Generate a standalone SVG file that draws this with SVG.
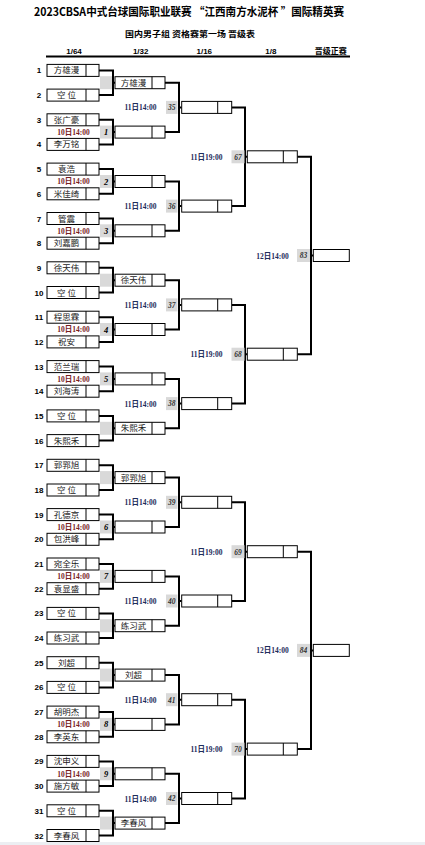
<svg xmlns="http://www.w3.org/2000/svg" width="425" height="845" viewBox="0 0 425 845">
<style>
.b{fill:#fff;stroke:#000;stroke-width:1}
.d{stroke:#000;stroke-width:1}
.c{fill:none;stroke:#000;stroke-width:2}
.g{fill:#d9d9d9}
.n{font-family:"Noto Sans CJK SC",sans-serif;font-size:8.5px;fill:#1a1a1a;text-anchor:middle}
.s{font-family:"Liberation Sans",Arial,sans-serif;font-weight:bold;font-size:8px;fill:#000;text-anchor:middle}
.m{font-family:"Liberation Serif",serif;font-style:italic;font-weight:bold;font-size:8.5px;fill:#000;text-anchor:middle}
.m2{font-family:"Liberation Serif",serif;font-style:italic;font-weight:bold;font-size:7.5px;fill:#333;text-anchor:middle}
.t1{font-family:"Liberation Serif","Noto Sans CJK SC",serif;font-weight:bold;font-size:7.5px;fill:#7a1f1f;text-anchor:middle}
.t2{font-family:"Liberation Serif","Noto Sans CJK SC",serif;font-weight:bold;font-size:7.5px;fill:#1f2d5c;text-anchor:middle}
.h{font-family:"Noto Sans CJK SC",sans-serif;font-weight:bold;fill:#000;text-anchor:middle}
.hr{font-family:"Liberation Sans","Noto Sans CJK SC",sans-serif;font-weight:bold;font-size:8px;fill:#000;text-anchor:middle}
</style>
<rect x="0" y="0" width="425" height="845" fill="#fff"/>
<rect x="0" y="842" width="425" height="3" fill="#eceef2"/>
<g id="header">
<text class="h" x="189" y="16" font-size="11.5" textLength="310" lengthAdjust="spacingAndGlyphs">2023CBSA中式台球国际职业联赛 “江西南方水泥杯 ”国际精英赛</text>
<text class="h" x="190" y="37" font-size="8" textLength="130" lengthAdjust="spacingAndGlyphs">国内男子组 资格赛第一场 晋级表</text>
<text class="hr" x="74" y="54">1/64</text>
<text class="hr" x="140.7" y="54">1/32</text>
<text class="hr" x="204.3" y="54">1/16</text>
<text class="hr" x="270.8" y="54">1/8</text>
<text class="hr" x="330.8" y="54">晋级正赛</text>
<line x1="46" y1="56.5" x2="350" y2="56.5" stroke="#000" stroke-width="2"/>
</g>
<g id="connectors">
<path class="c" d="M99,70.4H113V95.1H99M113,82.7H115"/>
<path class="c" d="M99,119.8H113V144.4H99M113,132.1H115"/>
<path class="c" d="M99,169.1H113V193.8H99M113,181.5H115"/>
<path class="c" d="M99,218.5H113V243.2H99M113,230.8H115"/>
<path class="c" d="M99,267.8H113V292.5H99M113,280.2H115"/>
<path class="c" d="M99,317.2H113V341.9H99M113,329.5H115"/>
<path class="c" d="M99,366.6H113V391.2H99M113,378.9H115"/>
<path class="c" d="M99,415.9H113V440.6H99M113,428.3H115"/>
<path class="c" d="M99,465.3H113V490H99M113,477.6H115"/>
<path class="c" d="M99,514.6H113V539.3H99M113,527H115"/>
<path class="c" d="M99,564H113V588.7H99M113,576.4H115"/>
<path class="c" d="M99,613.4H113V638H99M113,625.7H115"/>
<path class="c" d="M99,662.7H113V687.4H99M113,675.1H115"/>
<path class="c" d="M99,712.1H113V736.8H99M113,724.4H115"/>
<path class="c" d="M99,761.4H113V786.1H99M113,773.8H115"/>
<path class="c" d="M99,810.8H113V835.5H99M113,823.1H115"/>
<path class="c" d="M165,82.7H179V132.1H165M179,107.4H181.7"/>
<path class="c" d="M165,181.5H179V230.8H165M179,206.1H181.7"/>
<path class="c" d="M165,280.2H179V329.5H165M179,304.9H181.7"/>
<path class="c" d="M165,378.9H179V428.3H165M179,403.6H181.7"/>
<path class="c" d="M165,477.6H179V527H165M179,502.3H181.7"/>
<path class="c" d="M165,576.4H179V625.7H165M179,601H181.7"/>
<path class="c" d="M165,675.1H179V724.4H165M179,699.7H181.7"/>
<path class="c" d="M165,773.8H179V823.1H165M179,798.5H181.7"/>
<path class="c" d="M231.7,107.4H245V206.1H231.7M245,156.8H247.3"/>
<path class="c" d="M231.7,304.9H245V403.6H231.7M245,354.2H247.3"/>
<path class="c" d="M231.7,502.3H245V601H231.7M245,551.7H247.3"/>
<path class="c" d="M231.7,699.7H245V798.5H231.7M245,749.1H247.3"/>
<path class="c" d="M297.3,156.8H311V354.2H297.3M311,255.5H313.3"/>
<path class="c" d="M297.3,551.7H311V749.1H297.3M311,650.4H313.3"/>
</g>
<g id="r1matches">
<rect class="g" x="100" y="76.2" width="12" height="13"/>
<g id="m1"><rect class="g" x="100" y="125.6" width="12" height="13"/><text class="m" x="106" y="135.1">1</text><text class="t1" x="73.5" y="134.8">10日14:00</text></g>
<g id="m2"><rect class="g" x="100" y="175" width="12" height="13"/><text class="m" x="106" y="184.5">2</text><text class="t1" x="73.5" y="184.2">10日14:00</text></g>
<g id="m3"><rect class="g" x="100" y="224.3" width="12" height="13"/><text class="m" x="106" y="233.8">3</text><text class="t1" x="73.5" y="233.5">10日14:00</text></g>
<rect class="g" x="100" y="273.7" width="12" height="13"/>
<g id="m4"><rect class="g" x="100" y="323" width="12" height="13"/><text class="m" x="106" y="332.5">4</text><text class="t1" x="73.5" y="332.2">10日14:00</text></g>
<g id="m5"><rect class="g" x="100" y="372.4" width="12" height="13"/><text class="m" x="106" y="381.9">5</text><text class="t1" x="73.5" y="381.6">10日14:00</text></g>
<rect class="g" x="100" y="421.8" width="12" height="13"/>
<rect class="g" x="100" y="471.1" width="12" height="13"/>
<g id="m6"><rect class="g" x="100" y="520.5" width="12" height="13"/><text class="m" x="106" y="530">6</text><text class="t1" x="73.5" y="529.7">10日14:00</text></g>
<g id="m7"><rect class="g" x="100" y="569.9" width="12" height="13"/><text class="m" x="106" y="579.4">7</text><text class="t1" x="73.5" y="579.1">10日14:00</text></g>
<rect class="g" x="100" y="619.2" width="12" height="13"/>
<rect class="g" x="100" y="668.6" width="12" height="13"/>
<g id="m8"><rect class="g" x="100" y="717.9" width="12" height="13"/><text class="m" x="106" y="727.4">8</text><text class="t1" x="73.5" y="727.1">10日14:00</text></g>
<g id="m9"><rect class="g" x="100" y="767.3" width="12" height="13"/><text class="m" x="106" y="776.8">9</text><text class="t1" x="73.5" y="776.5">10日14:00</text></g>
<rect class="g" x="100" y="816.6" width="12" height="13"/>
</g>
<g id="r2matches">
<g id="m35"><rect class="g" x="166" y="100.9" width="11.5" height="13"/><text class="m2" x="171.7" y="110.2">35</text><text class="t2" x="140.5" y="110.4">11日14:00</text></g>
<g id="m36"><rect class="g" x="166" y="199.6" width="11.5" height="13"/><text class="m2" x="171.7" y="208.9">36</text><text class="t2" x="140.5" y="209.1">11日14:00</text></g>
<g id="m37"><rect class="g" x="166" y="298.4" width="11.5" height="13"/><text class="m2" x="171.7" y="307.7">37</text><text class="t2" x="140.5" y="307.9">11日14:00</text></g>
<g id="m38"><rect class="g" x="166" y="397.1" width="11.5" height="13"/><text class="m2" x="171.7" y="406.4">38</text><text class="t2" x="140.5" y="406.6">11日14:00</text></g>
<g id="m39"><rect class="g" x="166" y="495.8" width="11.5" height="13"/><text class="m2" x="171.7" y="505.1">39</text><text class="t2" x="140.5" y="505.3">11日14:00</text></g>
<g id="m40"><rect class="g" x="166" y="594.5" width="11.5" height="13"/><text class="m2" x="171.7" y="603.8">40</text><text class="t2" x="140.5" y="604">11日14:00</text></g>
<g id="m41"><rect class="g" x="166" y="693.2" width="11.5" height="13"/><text class="m2" x="171.7" y="702.5">41</text><text class="t2" x="140.5" y="702.7">11日14:00</text></g>
<g id="m42"><rect class="g" x="166" y="792" width="11.5" height="13"/><text class="m2" x="171.7" y="801.3">42</text><text class="t2" x="140.5" y="801.5">11日14:00</text></g>
</g>
<g id="r3matches">
<g id="m67"><rect class="g" x="231.5" y="150.3" width="13" height="13"/><text class="m2" x="238" y="159.6">67</text><text class="t2" x="206.5" y="159.8">11日19:00</text></g>
<g id="m68"><rect class="g" x="231.5" y="347.7" width="13" height="13"/><text class="m2" x="238" y="357">68</text><text class="t2" x="206.5" y="357.2">11日19:00</text></g>
<g id="m69"><rect class="g" x="231.5" y="545.2" width="13" height="13"/><text class="m2" x="238" y="554.5">69</text><text class="t2" x="206.5" y="554.7">11日19:00</text></g>
<g id="m70"><rect class="g" x="231.5" y="742.6" width="13" height="13"/><text class="m2" x="238" y="751.9">70</text><text class="t2" x="206.5" y="752.1">11日19:00</text></g>
</g>
<g id="r4matches">
<g id="m83"><rect class="g" x="297" y="249" width="13" height="13"/><text class="m2" x="303.5" y="258.3">83</text><text class="t2" x="272.5" y="258.5">12日14:00</text></g>
<g id="m84"><rect class="g" x="297" y="643.9" width="13" height="13"/><text class="m2" x="303.5" y="653.2">84</text><text class="t2" x="272.5" y="653.4">12日14:00</text></g>
</g>
<g id="p1"><text class="s" x="39" y="73.4">1</text><rect class="b" x="47" y="64.4" width="52" height="12"/><line class="d" x1="86" y1="64.4" x2="86" y2="76.4"/><text class="n" x="66.5" y="73.4">方雄漫</text></g>
<g id="p2"><text class="s" x="39" y="98.1">2</text><rect class="b" x="47" y="89.1" width="52" height="12"/><line class="d" x1="86" y1="89.1" x2="86" y2="101.1"/><text class="n" x="66.5" y="98.1">空 位</text></g>
<g id="p3"><text class="s" x="39" y="122.8">3</text><rect class="b" x="47" y="113.8" width="52" height="12"/><line class="d" x1="86" y1="113.8" x2="86" y2="125.8"/><text class="n" x="66.5" y="122.8">张广豪</text></g>
<g id="p4"><text class="s" x="39" y="147.4">4</text><rect class="b" x="47" y="138.4" width="52" height="12"/><line class="d" x1="86" y1="138.4" x2="86" y2="150.4"/><text class="n" x="66.5" y="147.4">李万铭</text></g>
<g id="p5"><text class="s" x="39" y="172.1">5</text><rect class="b" x="47" y="163.1" width="52" height="12"/><line class="d" x1="86" y1="163.1" x2="86" y2="175.1"/><text class="n" x="66.5" y="172.1">袁浩</text></g>
<g id="p6"><text class="s" x="39" y="196.8">6</text><rect class="b" x="47" y="187.8" width="52" height="12"/><line class="d" x1="86" y1="187.8" x2="86" y2="199.8"/><text class="n" x="66.5" y="196.8">米佳绮</text></g>
<g id="p7"><text class="s" x="39" y="221.5">7</text><rect class="b" x="47" y="212.5" width="52" height="12"/><line class="d" x1="86" y1="212.5" x2="86" y2="224.5"/><text class="n" x="66.5" y="221.5">管震</text></g>
<g id="p8"><text class="s" x="39" y="246.2">8</text><rect class="b" x="47" y="237.2" width="52" height="12"/><line class="d" x1="86" y1="237.2" x2="86" y2="249.2"/><text class="n" x="66.5" y="246.2">刘嘉鹏</text></g>
<g id="p9"><text class="s" x="39" y="270.8">9</text><rect class="b" x="47" y="261.8" width="52" height="12"/><line class="d" x1="86" y1="261.8" x2="86" y2="273.8"/><text class="n" x="66.5" y="270.8">徐天伟</text></g>
<g id="p10"><text class="s" x="39" y="295.5">10</text><rect class="b" x="47" y="286.5" width="52" height="12"/><line class="d" x1="86" y1="286.5" x2="86" y2="298.5"/><text class="n" x="66.5" y="295.5">空 位</text></g>
<g id="p11"><text class="s" x="39" y="320.2">11</text><rect class="b" x="47" y="311.2" width="52" height="12"/><line class="d" x1="86" y1="311.2" x2="86" y2="323.2"/><text class="n" x="66.5" y="320.2">程思霖</text></g>
<g id="p12"><text class="s" x="39" y="344.9">12</text><rect class="b" x="47" y="335.9" width="52" height="12"/><line class="d" x1="86" y1="335.9" x2="86" y2="347.9"/><text class="n" x="66.5" y="344.9">祝安</text></g>
<g id="p13"><text class="s" x="39" y="369.6">13</text><rect class="b" x="47" y="360.6" width="52" height="12"/><line class="d" x1="86" y1="360.6" x2="86" y2="372.6"/><text class="n" x="66.5" y="369.6">范兰瑞</text></g>
<g id="p14"><text class="s" x="39" y="394.2">14</text><rect class="b" x="47" y="385.2" width="52" height="12"/><line class="d" x1="86" y1="385.2" x2="86" y2="397.2"/><text class="n" x="66.5" y="394.2">刘海涛</text></g>
<g id="p15"><text class="s" x="39" y="418.9">15</text><rect class="b" x="47" y="409.9" width="52" height="12"/><line class="d" x1="86" y1="409.9" x2="86" y2="421.9"/><text class="n" x="66.5" y="418.9">空 位</text></g>
<g id="p16"><text class="s" x="39" y="443.6">16</text><rect class="b" x="47" y="434.6" width="52" height="12"/><line class="d" x1="86" y1="434.6" x2="86" y2="446.6"/><text class="n" x="66.5" y="443.6">朱熙禾</text></g>
<g id="p17"><text class="s" x="39" y="468.3">17</text><rect class="b" x="47" y="459.3" width="52" height="12"/><line class="d" x1="86" y1="459.3" x2="86" y2="471.3"/><text class="n" x="66.5" y="468.3">郭郛旭</text></g>
<g id="p18"><text class="s" x="39" y="493">18</text><rect class="b" x="47" y="484" width="52" height="12"/><line class="d" x1="86" y1="484" x2="86" y2="496"/><text class="n" x="66.5" y="493">空 位</text></g>
<g id="p19"><text class="s" x="39" y="517.6">19</text><rect class="b" x="47" y="508.6" width="52" height="12"/><line class="d" x1="86" y1="508.6" x2="86" y2="520.6"/><text class="n" x="66.5" y="517.6">孔德京</text></g>
<g id="p20"><text class="s" x="39" y="542.3">20</text><rect class="b" x="47" y="533.3" width="52" height="12"/><line class="d" x1="86" y1="533.3" x2="86" y2="545.3"/><text class="n" x="66.5" y="542.3">包洪峰</text></g>
<g id="p21"><text class="s" x="39" y="567">21</text><rect class="b" x="47" y="558" width="52" height="12"/><line class="d" x1="86" y1="558" x2="86" y2="570"/><text class="n" x="66.5" y="567">宛全乐</text></g>
<g id="p22"><text class="s" x="39" y="591.7">22</text><rect class="b" x="47" y="582.7" width="52" height="12"/><line class="d" x1="86" y1="582.7" x2="86" y2="594.7"/><text class="n" x="66.5" y="591.7">袁显盛</text></g>
<g id="p23"><text class="s" x="39" y="616.4">23</text><rect class="b" x="47" y="607.4" width="52" height="12"/><line class="d" x1="86" y1="607.4" x2="86" y2="619.4"/><text class="n" x="66.5" y="616.4">空 位</text></g>
<g id="p24"><text class="s" x="39" y="641">24</text><rect class="b" x="47" y="632" width="52" height="12"/><line class="d" x1="86" y1="632" x2="86" y2="644"/><text class="n" x="66.5" y="641">练习武</text></g>
<g id="p25"><text class="s" x="39" y="665.7">25</text><rect class="b" x="47" y="656.7" width="52" height="12"/><line class="d" x1="86" y1="656.7" x2="86" y2="668.7"/><text class="n" x="66.5" y="665.7">刘超</text></g>
<g id="p26"><text class="s" x="39" y="690.4">26</text><rect class="b" x="47" y="681.4" width="52" height="12"/><line class="d" x1="86" y1="681.4" x2="86" y2="693.4"/><text class="n" x="66.5" y="690.4">空 位</text></g>
<g id="p27"><text class="s" x="39" y="715.1">27</text><rect class="b" x="47" y="706.1" width="52" height="12"/><line class="d" x1="86" y1="706.1" x2="86" y2="718.1"/><text class="n" x="66.5" y="715.1">胡明杰</text></g>
<g id="p28"><text class="s" x="39" y="739.8">28</text><rect class="b" x="47" y="730.8" width="52" height="12"/><line class="d" x1="86" y1="730.8" x2="86" y2="742.8"/><text class="n" x="66.5" y="739.8">李英东</text></g>
<g id="p29"><text class="s" x="39" y="764.4">29</text><rect class="b" x="47" y="755.4" width="52" height="12"/><line class="d" x1="86" y1="755.4" x2="86" y2="767.4"/><text class="n" x="66.5" y="764.4">沈申义</text></g>
<g id="p30"><text class="s" x="39" y="789.1">30</text><rect class="b" x="47" y="780.1" width="52" height="12"/><line class="d" x1="86" y1="780.1" x2="86" y2="792.1"/><text class="n" x="66.5" y="789.1">施方敏</text></g>
<g id="p31"><text class="s" x="39" y="813.8">31</text><rect class="b" x="47" y="804.8" width="52" height="12"/><line class="d" x1="86" y1="804.8" x2="86" y2="816.8"/><text class="n" x="66.5" y="813.8">空 位</text></g>
<g id="p32"><text class="s" x="39" y="838.5">32</text><rect class="b" x="47" y="829.5" width="52" height="12"/><line class="d" x1="86" y1="829.5" x2="86" y2="841.5"/><text class="n" x="66.5" y="838.5">李春风</text></g>
<g id="r2-1"><rect class="b" x="115" y="76.7" width="50" height="12"/><line class="d" x1="152" y1="76.7" x2="152" y2="88.7"/><text class="n" x="133.5" y="85.7">方雄漫</text></g>
<g id="r2-2"><rect class="b" x="115" y="126.1" width="50" height="12"/><line class="d" x1="152" y1="126.1" x2="152" y2="138.1"/></g>
<g id="r2-3"><rect class="b" x="115" y="175.5" width="50" height="12"/><line class="d" x1="152" y1="175.5" x2="152" y2="187.5"/></g>
<g id="r2-4"><rect class="b" x="115" y="224.8" width="50" height="12"/><line class="d" x1="152" y1="224.8" x2="152" y2="236.8"/></g>
<g id="r2-5"><rect class="b" x="115" y="274.2" width="50" height="12"/><line class="d" x1="152" y1="274.2" x2="152" y2="286.2"/><text class="n" x="133.5" y="283.2">徐天伟</text></g>
<g id="r2-6"><rect class="b" x="115" y="323.5" width="50" height="12"/><line class="d" x1="152" y1="323.5" x2="152" y2="335.5"/></g>
<g id="r2-7"><rect class="b" x="115" y="372.9" width="50" height="12"/><line class="d" x1="152" y1="372.9" x2="152" y2="384.9"/></g>
<g id="r2-8"><rect class="b" x="115" y="422.3" width="50" height="12"/><line class="d" x1="152" y1="422.3" x2="152" y2="434.3"/><text class="n" x="133.5" y="431.3">朱熙禾</text></g>
<g id="r2-9"><rect class="b" x="115" y="471.6" width="50" height="12"/><line class="d" x1="152" y1="471.6" x2="152" y2="483.6"/><text class="n" x="133.5" y="480.6">郭郛旭</text></g>
<g id="r2-10"><rect class="b" x="115" y="521" width="50" height="12"/><line class="d" x1="152" y1="521" x2="152" y2="533"/></g>
<g id="r2-11"><rect class="b" x="115" y="570.4" width="50" height="12"/><line class="d" x1="152" y1="570.4" x2="152" y2="582.4"/></g>
<g id="r2-12"><rect class="b" x="115" y="619.7" width="50" height="12"/><line class="d" x1="152" y1="619.7" x2="152" y2="631.7"/><text class="n" x="133.5" y="628.7">练习武</text></g>
<g id="r2-13"><rect class="b" x="115" y="669.1" width="50" height="12"/><line class="d" x1="152" y1="669.1" x2="152" y2="681.1"/><text class="n" x="133.5" y="678.1">刘超</text></g>
<g id="r2-14"><rect class="b" x="115" y="718.4" width="50" height="12"/><line class="d" x1="152" y1="718.4" x2="152" y2="730.4"/></g>
<g id="r2-15"><rect class="b" x="115" y="767.8" width="50" height="12"/><line class="d" x1="152" y1="767.8" x2="152" y2="779.8"/></g>
<g id="r2-16"><rect class="b" x="115" y="817.1" width="50" height="12"/><line class="d" x1="152" y1="817.1" x2="152" y2="829.1"/><text class="n" x="133.5" y="826.1">李春风</text></g>
<g id="r3-1"><rect class="b" x="181.7" y="101.4" width="50" height="12"/><line class="d" x1="217.7" y1="101.4" x2="217.7" y2="113.4"/></g>
<g id="r3-2"><rect class="b" x="181.7" y="200.1" width="50" height="12"/><line class="d" x1="217.7" y1="200.1" x2="217.7" y2="212.1"/></g>
<g id="r3-3"><rect class="b" x="181.7" y="298.9" width="50" height="12"/><line class="d" x1="217.7" y1="298.9" x2="217.7" y2="310.9"/></g>
<g id="r3-4"><rect class="b" x="181.7" y="397.6" width="50" height="12"/><line class="d" x1="217.7" y1="397.6" x2="217.7" y2="409.6"/></g>
<g id="r3-5"><rect class="b" x="181.7" y="496.3" width="50" height="12"/><line class="d" x1="217.7" y1="496.3" x2="217.7" y2="508.3"/></g>
<g id="r3-6"><rect class="b" x="181.7" y="595" width="50" height="12"/><line class="d" x1="217.7" y1="595" x2="217.7" y2="607"/></g>
<g id="r3-7"><rect class="b" x="181.7" y="693.7" width="50" height="12"/><line class="d" x1="217.7" y1="693.7" x2="217.7" y2="705.7"/></g>
<g id="r3-8"><rect class="b" x="181.7" y="792.5" width="50" height="12"/><line class="d" x1="217.7" y1="792.5" x2="217.7" y2="804.5"/></g>
<g id="r4-1"><rect class="b" x="247.3" y="150.8" width="50" height="12"/><line class="d" x1="283.3" y1="150.8" x2="283.3" y2="162.8"/></g>
<g id="r4-2"><rect class="b" x="247.3" y="348.2" width="50" height="12"/><line class="d" x1="283.3" y1="348.2" x2="283.3" y2="360.2"/></g>
<g id="r4-3"><rect class="b" x="247.3" y="545.7" width="50" height="12"/><line class="d" x1="283.3" y1="545.7" x2="283.3" y2="557.7"/></g>
<g id="r4-4"><rect class="b" x="247.3" y="743.1" width="50" height="12"/><line class="d" x1="283.3" y1="743.1" x2="283.3" y2="755.1"/></g>
<g id="r5-1"><rect class="b" x="313.3" y="249.5" width="36" height="12"/></g>
<g id="r5-2"><rect class="b" x="313.3" y="644.4" width="36" height="12"/></g>
</svg>
